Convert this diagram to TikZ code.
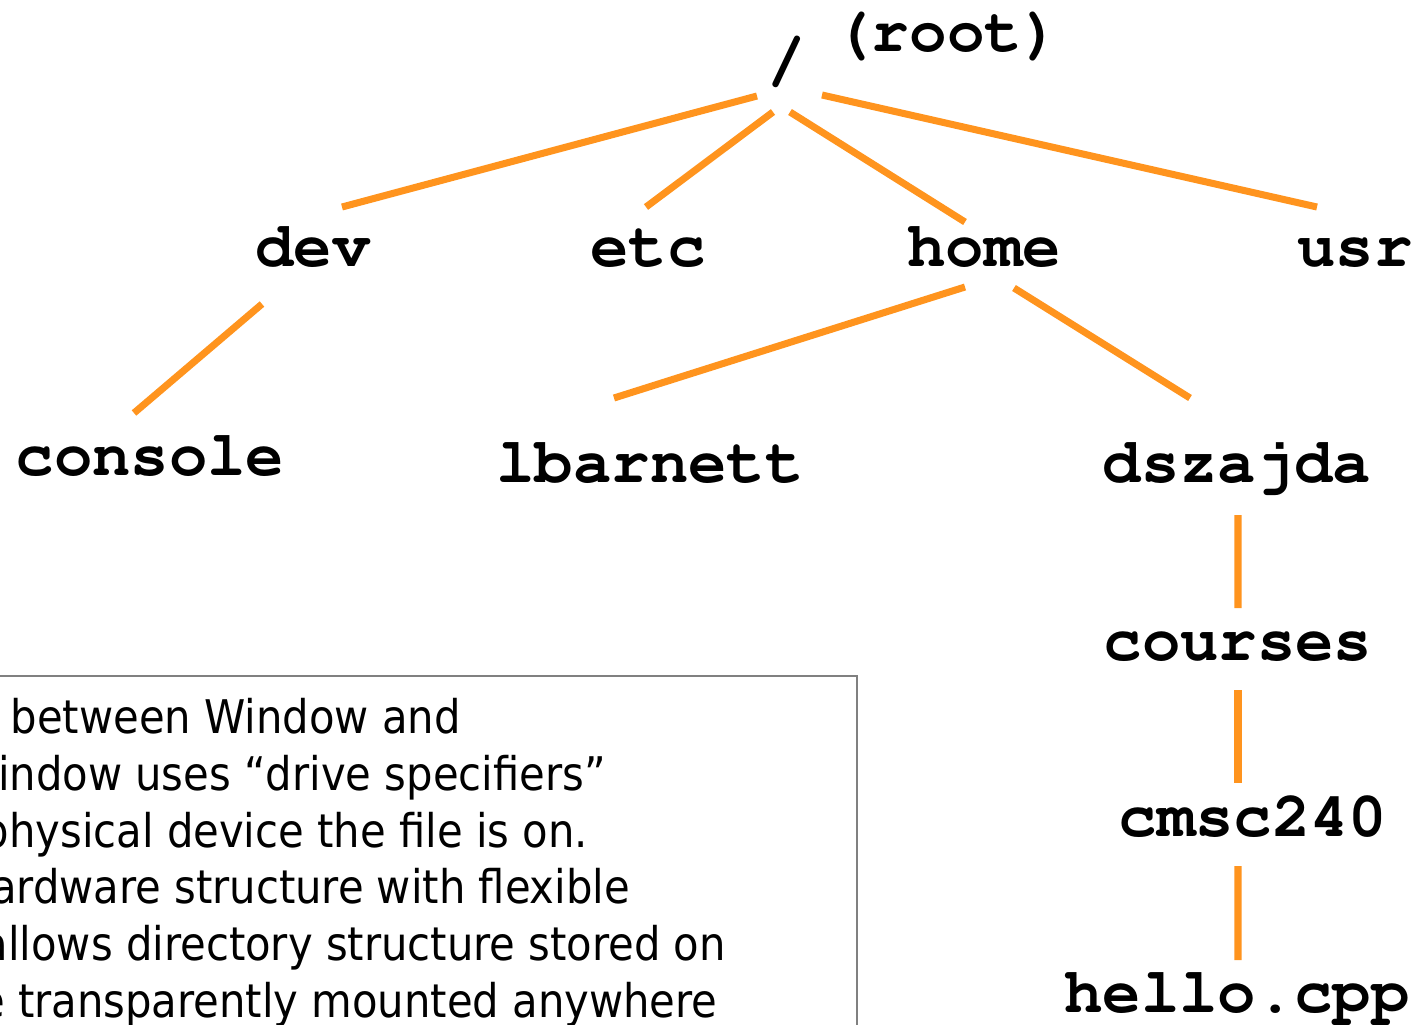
\documentclass[tikz,border=0pt]{standalone}
\usepackage[T1]{fontenc}
\usepackage{fontspec}
\newfontfamily\notefont{DejaVu Sans Condensed}
\newcommand\dirfont{\fontencoding{T1}\fontfamily{pcr}\fontseries{b}\selectfont}
\definecolor{branchorange}{RGB}{255,148,30}
\definecolor{boxgray}{RGB}{128,128,128}
\tikzset{
  dir/.style={font=\fontsize{18.2}{20}\dirfont, inner sep=0pt, anchor=base},
  branch/.style={draw=branchorange, line width=2pt},
  note/.style={font=\fontsize{13.2}{16}\notefont, inner sep=0pt, anchor=base west},
}
\begin{document}
\begin{tikzpicture}
\useasboundingbox (0,0) rectangle (14.14,-10.24);
\clip (0,0) rectangle (14.14,-10.24);
\node [dir] (slash) at (7.87,-0.80) {/};
\node [dir, font=\fontsize{17.8}{20}\dirfont] (root) at (9.47,-0.51) {(root)};
\node [dir] (dev) at (3.13,-2.66) {dev};
\node [dir] (etc) at (6.48,-2.66) {etc};
\node [dir] (home) at (9.84,-2.66) {home};
\node [dir] (usr) at (13.55,-2.66) {usr};
\node [dir] (console) at (1.50,-4.75) {console};
\node [dir] (lbarnett) at (6.50,-4.82) {lbarnett};
\node [dir] (dszajda) at (12.37,-4.82) {dszajda};
\node [dir] (courses) at (12.38,-6.60) {courses};
\node [dir] (cmsc) at (12.53,-8.36) {cmsc240};
\node [dir] (hello) at (12.37,-10.12) {hello.cpp};
\draw [branch] ([shift={(-0.30,-0.16)}]slash.base) -- ([shift={(0.29,0.59)}]dev.base);
\draw [branch] ([shift={(-0.14,-0.32)}]slash.base) -- ([shift={(-0.02,0.59)}]etc.base);
\draw [branch] ([shift={(0.03,-0.32)}]slash.base) -- ([shift={(-0.19,0.44)}]home.base);
\draw [branch] ([shift={(0.35,-0.15)}]slash.base) -- ([shift={(-0.38,0.59)}]usr.base);
\draw [branch] ([shift={(-0.51,-0.38)}]dev.base) -- ([shift={(-0.16,0.62)}]console.base);
\draw [branch] ([shift={(-0.19,-0.21)}]home.base) -- ([shift={(-0.36,0.84)}]lbarnett.base);
\draw [branch] ([shift={(0.30,-0.22)}]home.base) -- ([shift={(-0.47,0.84)}]dszajda.base);
\draw [branch] ([shift={(0.01,-0.33)}]dszajda.base) -- ([shift={(0,0.52)}]courses.base);
\draw [branch] ([shift={(0,-0.30)}]courses.base) -- ([shift={(-0.15,0.53)}]cmsc.base);
\draw [branch] ([shift={(-0.15,-0.30)}]cmsc.base) -- ([shift={(0.01,0.52)}]hello.base);
\draw [boxgray, line width=0.6pt] (-0.2,-6.76) rectangle (8.57,-10.5);
\node [note] (l1) at (0.10,-7.33) {between Window and};
\node [note] (l2) at (-0.43,-7.90) {Window uses “drive specifiers”};
\node [note] (l3) at (-0.18,-8.47) {physical device the file is on.};
\node [note] (l4) at (-0.36,-9.03) {hardware structure with flexible};
\node [note] (l5) at (-0.18,-9.60) {allows directory structure stored on};
\node [note] (l6) at (-0.48,-10.17) {be transparently mounted anywhere};
\end{tikzpicture}
\end{document}
